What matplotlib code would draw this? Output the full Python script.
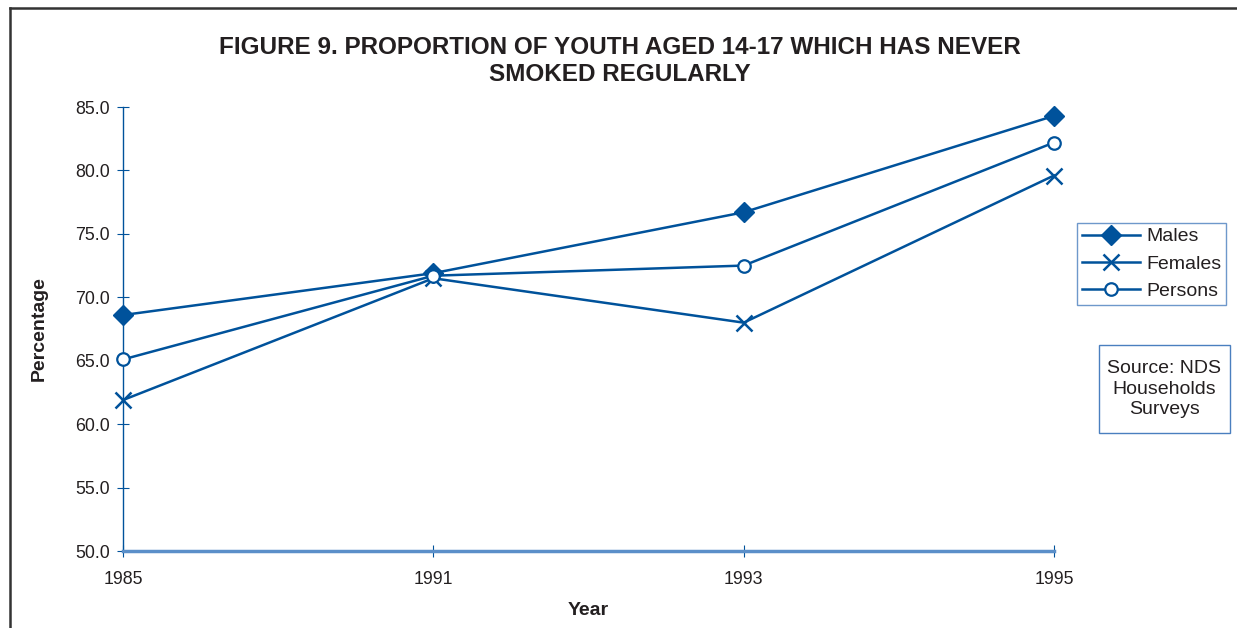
import matplotlib
matplotlib.use("Agg")
import matplotlib.pyplot as plt
from matplotlib.patches import Rectangle
from matplotlib.lines import Line2D
from matplotlib import font_manager

years = ["1985", "1991", "1993", "1995"]
males = [68.6, 71.9, 76.7, 84.3]
females = [61.9, 71.5, 68.0, 79.6]
persons = [65.1, 71.7, 72.5, 82.2]
yticks = [50.0, 55.0, 60.0, 65.0, 70.0, 75.0, 80.0, 85.0]

names = {f.name for f in font_manager.fontManager.ttflist}
base = "Liberation Sans" if "Liberation Sans" in names else "DejaVu Sans"
narrow = "Liberation Sans Narrow" if "Liberation Sans Narrow" in names else base
plt.rcParams["font.family"] = [base, "DejaVu Sans"]

BLUE = "#00529B"
TXT = "#231f20"
W, H = 1237, 628

fig = plt.figure(figsize=(W / 100, H / 100), dpi=100)
ax = fig.add_axes([123 / W, 1 - 551 / H, (1054 - 123) / W, (551 - 107) / H])

x = list(range(len(years)))
ax.plot(x, males, color=BLUE, lw=1.8, marker="D", ms=10.5, mfc=BLUE, mec=BLUE, label="Males", clip_on=False, zorder=3)
ax.plot(x, females, color=BLUE, lw=1.8, marker="x", ms=11, mew=1.8, label="Females", clip_on=False, zorder=3)
ax.plot(x, persons, color=BLUE, lw=1.8, marker="o", ms=9, mfc="white", mec=BLUE, mew=1.6, label="Persons", clip_on=False, zorder=3)

ax.set_xlim(0, 3)
ax.set_ylim(50, 85)
ax.set_xticks(x)
ax.set_xticklabels(years)
ax.set_yticks(yticks)
ax.set_yticklabels([f"{v:.1f}" for v in yticks])

for s in ["top", "right"]:
    ax.spines[s].set_visible(False)
ax.spines["left"].set_color(BLUE)
ax.spines["left"].set_linewidth(1.0)
ax.spines["bottom"].set_color("#5b8fc9")
ax.spines["bottom"].set_linewidth(2.5)
ax.tick_params(axis="both", direction="inout", length=9, width=0.8, color=BLUE,
               labelsize=12.8, labelcolor=TXT)
ax.tick_params(axis="y", pad=5)
ax.tick_params(axis="x", pad=10)

ax.set_ylabel("Percentage", fontsize=14, fontweight="bold", color=TXT, labelpad=20)
ax.set_xlabel("Year", fontsize=14, fontweight="bold", color=TXT, labelpad=10)

fig.text(620 / W, 1 - 61 / H, "FIGURE 9. PROPORTION OF YOUTH AGED 14-17 WHICH HAS NEVER\nSMOKED REGULARLY",
         ha="center", va="center", fontsize=17.5, fontweight="bold", color=TXT,
         family=[narrow, base], linespacing=1.25)

leg = ax.legend(loc="upper left", bbox_to_anchor=(1077 / W, 1 - 223 / H), bbox_transform=fig.transFigure,
                fontsize=14, frameon=True, fancybox=False, handlelength=3.0, handletextpad=0.3,
                borderpad=0.25, labelspacing=0.5, borderaxespad=0)
leg.get_frame().set_edgecolor("#4a7fbf")
leg.get_frame().set_linewidth(1.0)
for t in leg.get_texts():
    t.set_color(TXT)

fig.patches.append(Rectangle((1099 / W, 1 - 433 / H), (1230 - 1099) / W, (433 - 345) / H,
                             transform=fig.transFigure, fill=False, edgecolor="#4a7fbf", lw=1.0))
fig.text(1164 / W, 1 - 389 / H, "Source: NDS\nHouseholds\nSurveys", ha="center", va="center",
         multialignment="center", fontsize=14, color=TXT, linespacing=1.3)

# page frame (top and left)
fig.add_artist(Line2D([10 / W, 10 / W], [0, 1 - 8 / H], transform=fig.transFigure, color="#333333", lw=1.8))
fig.add_artist(Line2D([10 / W, 1], [1 - 8 / H, 1 - 8 / H], transform=fig.transFigure, color="#333333", lw=1.8))

fig.savefig("out.png", dpi=100)
